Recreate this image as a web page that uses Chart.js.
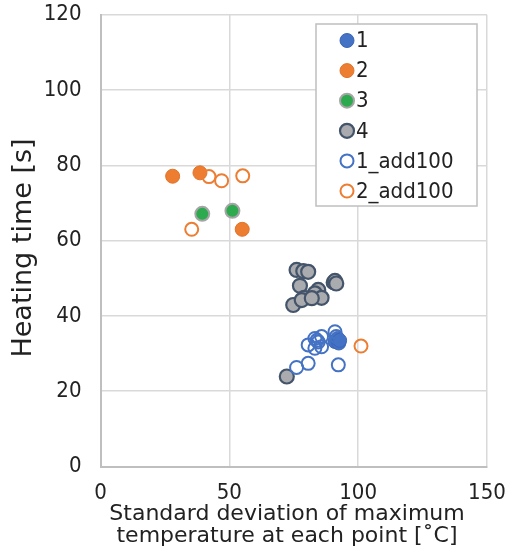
<!DOCTYPE html>
<html>
<head>
<meta charset="utf-8">
<script src="https://cdn.jsdelivr.net/npm/chart.js@4/dist/chart.umd.min.js"></script>
<style>
  html, body { margin: 0; padding: 0; background: #fff; }
  #wrap { width: 506px; height: 549px; position: relative; }
</style>
</head>
<body>
<div id="wrap"><canvas id="heatChart"></canvas></div>
<script>
// data: [x, y] = [std dev (°C), heating time (s)]
const seriesNames = ['1', '2', '3', '4', '1_add100', '2_add100'];

const s1 = [[91.0, 33.2], [92.5, 32.8], [92.0, 34.0], [92.8, 33.5]];
const s2 = [[28.0, 77.1], [38.6, 78.0], [55.0, 63.0]];
const s3 = [[39.5, 67.1], [51.2, 67.9]];
const s4 = [[76.1, 52.2], [78.7, 51.9], [80.6, 51.7], [77.4, 48.0], [90.5, 48.9], [91.0, 49.3],
            [91.5, 48.6], [84.5, 46.9], [83.2, 46.0], [79.1, 44.8], [85.8, 44.8], [74.8, 42.9],
            [78.1, 44.2], [82.0, 44.7], [72.3, 23.9]];
const s5 = [[91.0, 35.8], [83.2, 34.0], [85.8, 34.5], [84.5, 33.1], [80.6, 32.3], [83.2, 31.4],
            [85.8, 31.8], [92.3, 27.0], [80.6, 27.4], [76.1, 26.3], [84.0, 33.5], [91.5, 34.5]];
const s6 = [[42.1, 77.0], [47.0, 75.9], [55.2, 77.2], [35.4, 63.0], [101.1, 32.0]];

const xTicks = [0, 50, 100, 150];
const yTicks = [0, 20, 40, 60, 80, 100, 120];

const xTitle = ['Standard deviation of maximum', 'temperature at each point [˚C]'];
const yTitle = 'Heating time [s]';

const toPts = arr => arr.map(p => ({ x: p[0], y: p[1] }));

const condensed = '"DejaVu Sans Condensed", "Liberation Sans Narrow", sans-serif';

// marker styles per series (excel-like)
const styles = [
  { bg: '#4472C4', border: '#3A66B5', bw: 1, r: 7 },
  { bg: '#ED7D31', border: '#E0732A', bw: 1, r: 7 },
  { bg: '#2EAA4E', border: '#A5A5A5', bw: 2, r: 7 },
  { bg: '#A9ABAE', border: '#44546A', bw: 2.2, r: 7 },
  { bg: 'rgba(0,0,0,0)', border: '#4472C4', bw: 2, r: 6.5 },
  { bg: 'rgba(0,0,0,0)', border: '#ED7D31', bw: 2, r: 6.5 }
];

const allData = [s1, s2, s3, s4, s5, s6];

const datasets = allData.map((d, i) => ({
  label: seriesNames[i],
  data: toPts(d),
  backgroundColor: styles[i].bg,
  borderColor: styles[i].border,
  borderWidth: styles[i].bw,
  pointRadius: styles[i].r,
  pointHoverRadius: styles[i].r,
  order: allData.length - i   // later series on top, like excel
}));

// legend box inside the plot + axis titles placed like the original
const boxLegend = {
  id: 'boxLegend',
  afterDraw(chart) {
    const ctx = chart.ctx;
    const left = 316, top = 24, w = 161, h = 182;
    ctx.save();
    ctx.fillStyle = '#fff';
    ctx.fillRect(left, top, w, h);
    ctx.strokeStyle = '#BFBFBF';
    ctx.lineWidth = 1.5;
    ctx.strokeRect(left, top, w, h);
    ctx.font = '22px ' + condensed;
    ctx.textBaseline = 'middle';
    ctx.textAlign = 'left';
    chart.data.datasets.forEach((ds, i) => {
      const y = 40.5 + i * 30.1;
      ctx.beginPath();
      ctx.arc(347, y, ds.pointRadius, 0, Math.PI * 2);
      ctx.fillStyle = ds.backgroundColor;
      ctx.fill();
      ctx.lineWidth = ds.borderWidth;
      ctx.strokeStyle = ds.borderColor;
      ctx.stroke();
      ctx.fillStyle = '#222';
      ctx.fillText(ds.label, 356, y + 1);
    });

    // axis titles
    ctx.fillStyle = '#222';
    ctx.textAlign = 'center';
    ctx.textBaseline = 'middle';
    ctx.font = '22px "DejaVu Sans", sans-serif';
    xTitle.forEach((line, i) => ctx.fillText(line, 287, 514 + i * 22.6));
    ctx.translate(23.5, 248);
    ctx.rotate(-Math.PI / 2);
    ctx.font = '27px "DejaVu Sans", sans-serif';
    ctx.fillText(yTitle, 0, 0);
    ctx.restore();
  }
};

const ctx = document.getElementById('heatChart').getContext('2d');
const chart = new Chart(ctx, {
  type: 'scatter',
  data: { datasets: datasets },
  plugins: [boxLegend],
  options: {
    responsive: true,
    maintainAspectRatio: false,
    animation: false,
    layout: { padding: { top: 14.7, right: 19, left: 0, bottom: 0 } },
    plugins: {
      legend: { display: false },
      tooltip: { enabled: false }
    },
    scales: {
      x: {
        type: 'linear',
        min: 0, max: 150,
        afterBuildTicks: axis => { axis.ticks = xTicks.map(v => ({ value: v })); },
        afterFit: axis => {
          axis.height = 82.5;
          axis.paddingLeft = 0; axis.paddingRight = 0;
        },
        grid: { color: '#D9D9D9', lineWidth: 1.5, drawTicks: false },
        border: { color: '#BFBFBF', width: 2 },
        ticks: { padding: 14, color: '#222', font: { family: condensed, size: 22 }, maxRotation: 0 }
      },
      y: {
        type: 'linear',
        min: 0, max: 120,
        afterBuildTicks: axis => { axis.ticks = yTicks.map(v => ({ value: v })); },
        afterFit: axis => {
          axis.width = 100.5;
          axis.paddingTop = 0; axis.paddingBottom = 0;
        },
        grid: { color: '#D9D9D9', lineWidth: 1.5, drawTicks: false },
        border: { color: '#BFBFBF', width: 2 },
        ticks: { padding: 19, color: '#222', font: { family: condensed, size: 22 } }
      }
    }
  }
});
</script>
</body>
</html>
